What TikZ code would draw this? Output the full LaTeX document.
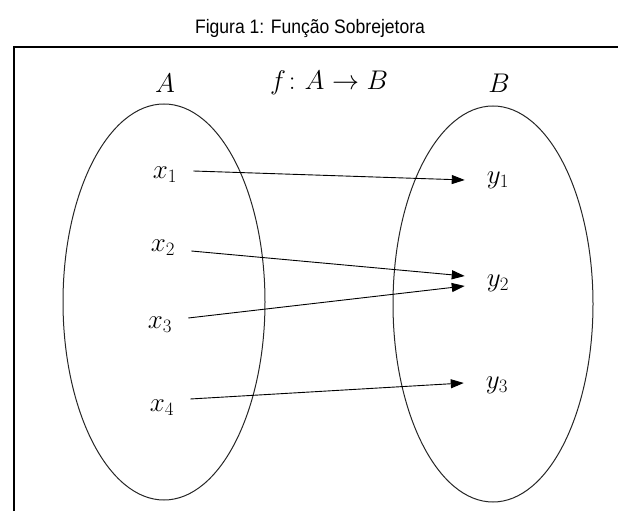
\documentclass[tikz,border=0pt]{standalone}
\usepackage{fix-cm}
\usepackage{fontspec}
\usepackage{amsmath}
\usepackage{amssymb}
\usepackage{tikz}
\usetikzlibrary{arrows.meta}
\newfontfamily\titlefont[FakeStretch=0.9]{Liberation Sans}

\begin{document}
\begin{tikzpicture}[x=1pt, y=1pt,
    lbl/.style={font=\fontsize{27}{32}\selectfont, inner sep=1pt},
    setoval/.style={draw=black!85, line width=1pt},
    arr/.style={-{Triangle[length=13pt, width=9pt]}, line width=0.9pt}]
    \useasboundingbox (0,0) rectangle (618,511);
    \node[font=\titlefont\fontsize{19.5}{23}\selectfont] (title) at (310,482) {Figura 1: Função Sobrejetora};
    \draw[line width=1.6pt] (14,0) -- (14,464) -- (618,464);
    \draw[setoval] (164,209) ellipse [x radius=101, y radius=198];
    \draw[setoval] (493,207) ellipse [x radius=100, y radius=198];
    \node[lbl] (setA) at (165,428) {$A$};
    \node[lbl] (setB) at (499,428) {$B$};
    \node[lbl] (func) at (329,428) {$f\colon A\to B$};
    \node[lbl] (x1) at (165,336) {$x_1$};
    \node[lbl] (x2) at (163,263) {$x_2$};
    \node[lbl] (x3) at (160,186) {$x_3$};
    \node[lbl] (x4) at (162,103) {$x_4$};
    \node[lbl] (y1) at (498,331) {$y_1$};
    \node[lbl] (y2) at (498,228) {$y_2$};
    \node[lbl] (y3) at (497,126) {$y_3$};
    \draw[arr] ([xshift=15pt,yshift=4pt]x1.east) -- ([xshift=-21pt,yshift=0pt]y1.west);
    \draw[arr] ([xshift=15pt,yshift=-3pt]x2.east) -- ([xshift=-21pt,yshift=7pt]y2.west);
    \draw[arr] ([xshift=15pt,yshift=7pt]x3.east) -- ([xshift=-21pt,yshift=-3pt]y2.west);
    \draw[arr] ([xshift=15pt,yshift=9pt]x4.east) -- ([xshift=-21pt,yshift=2pt]y3.west);
\end{tikzpicture}
\end{document}
